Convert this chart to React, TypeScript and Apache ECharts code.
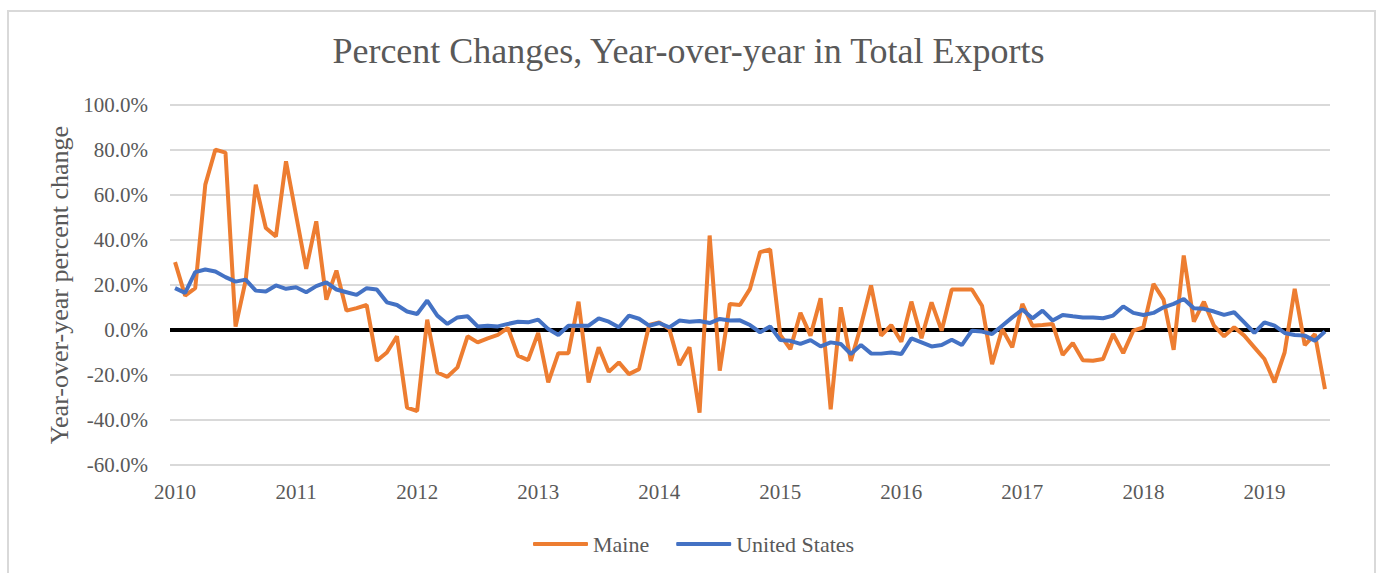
import React, { useEffect, useRef } from "react";
import * as echarts from "echarts";

const years = ["2010", "2011", "2012", "2013", "2014", "2015", "2016", "2017", "2018", "2019"];
const monthsInLastYear = 7;
const categories: string[] = [];
years.forEach((y, yi) => {
  const n = yi === years.length - 1 ? monthsInLastYear : 12;
  for (let m = 1; m <= n; m++) categories.push(`${y}-${String(m).padStart(2, "0")}`);
});

const maine = [
  30.2, 15.3, 18.6, 64.6, 80.2, 78.8, 1.5, 22, 64.6, 45.3, 41.6, 75.0, 51, 27.2, 48.3, 13.5, 26.4, 8.6, 9.7, 11.1, -13.7, -10, -2.8,
  -34.5, -36, 4.6, -18.9, -20.8, -16.6, -2.8, -5.5, -3.7, -2.2, 0.9, -11.4, -13.4, -1.3, -23.3, -10.3, -10.3, 12.6, -23.3, -7.7, -18.6, -14.4, -19.6, -17.4,
  2.2, 3.4, 0.4, -15.6, -7.7, -36.7, 42, -18.1, 11.6, 11.1, 18.3, 34.6, 35.8, -2.2, -8.5, 7.6, -2.5, 14.1, -35.2, 10.1, -13.7, 1.9, 19.8, -2.5,
  2.2, -5.2, 12.6, -3.7, 12.3, -0.3, 18, 18, 18, 10.8, -15.2, 0.4, -7.7, 11.6, 1.9, 2.2, 2.7, -11.1, -5.8, -13.4, -13.7, -12.9,
  -1.8, -10.3, -0.3, 1.2, 20.5, 13.5, -8.8, 33.1, 3.7, 12.6, 1.9, -2.8, 1.2, -2.5, -7.7, -12.9, -23.3, -10, 18.3, -6.7, -1.8, -26.3,
];

const unitedStates = [
  18.6, 16.5, 25.7, 26.9, 26, 23.5, 21.5, 22.4, 17.5, 17.1, 19.8, 18.3, 19, 16.8, 19.5, 21.2, 18, 16.8, 15.6, 18.6, 18, 12.3, 11.1,
  8.2, 7.1, 13.1, 6.4, 2.7, 5.6, 6.1, 1.6, 1.9, 1.6, 2.7, 3.7, 3.4, 4.6, 0.4, -2.2, 1.9, 1.9, 1.9, 5.2, 3.7, 1.2, 6.4, 5.0,
  1.9, 3.1, 1.2, 4.2, 3.7, 4, 3.1, 4.9, 4.2, 4.3, 2.2, -1, 1.6, -4.5, -4.8, -6.2, -4.5, -7.3, -5.5, -6.2, -10.7, -6.7, -10.4, -10.5,
  -10, -10.7, -3.7, -5.5, -7.3, -6.7, -4.3, -6.7, -0.3, -0.7, -1.8, 1.9, 5.6, 9.1, 5.2, 8.6, 4.2, 6.7, 6.1, 5.6, 5.6, 5.2,
  6.4, 10.5, 7.6, 6.7, 7.6, 10.1, 11.6, 13.8, 9.7, 9.4, 8.2, 6.7, 7.9, 3.4, -1.3, 3.4, 1.9, -1.3, -2.2, -2.5, -4.8, -0.7,
];

const seriesNames = ["Maine", "United States"];
const yMin = -60;
const yMax = 100;
const yStep = 20;

const FONT = "'Liberation Serif', 'Times New Roman', serif";
const TEXT = "#595959";

export default function App() {
  const ref = useRef<HTMLDivElement>(null);
  useEffect(() => {
    if (!ref.current) return;
    const chart = echarts.init(ref.current, undefined, { renderer: "svg" });
    chart.setOption({
      animation: false,
      backgroundColor: "#ffffff",
      textStyle: { fontFamily: FONT, color: TEXT },
      title: {
        text: "Percent Changes, Year-over-year in Total Exports",
        left: "center",
        top: 28,
        textStyle: { fontFamily: FONT, fontSize: 36, fontWeight: "normal", color: TEXT },
      },
      legend: {
        data: seriesNames,
        left: 533,
        top: 533,
        padding: 0,
        icon: "roundRect",
        itemWidth: 55,
        itemHeight: 4,
        itemGap: 27,
        textStyle: { fontFamily: FONT, fontSize: 22, color: TEXT },
      },
      grid: { left: 170, right: 47, top: 105, bottom: 108, containLabel: false },
      xAxis: {
        type: "category",
        data: categories,
        boundaryGap: true,
        axisLine: { show: false },
        axisTick: { show: false },
        axisLabel: {
          interval: 11,
          margin: 16,
          fontFamily: FONT,
          fontSize: 21,
          color: TEXT,
          formatter: (v: string) => v.slice(0, 4),
        },
        splitLine: { show: false },
      },
      yAxis: {
        type: "value",
        min: yMin,
        max: yMax,
        interval: yStep,
        name: "Year-over-year percent change",
        nameLocation: "middle",
        nameGap: 98,
        nameTextStyle: { fontFamily: FONT, fontSize: 26, color: TEXT },
        axisLine: { show: false },
        axisTick: { show: false },
        axisLabel: {
          margin: 22,
          fontFamily: FONT,
          fontSize: 21,
          color: TEXT,
          formatter: (v: number) => v.toFixed(1) + "%",
        },
        splitLine: { lineStyle: { color: "#d9d9d9", width: 2 } },
      },
      series: [
        {
          name: "Maine",
          type: "line",
          data: maine,
          showSymbol: false,
          symbol: "none",
          lineStyle: { color: "#ED7D31", width: 4 },
          itemStyle: { color: "#ED7D31" },
          markLine: {
            silent: true,
            symbol: ["none", "none"],
            label: { show: false },
            lineStyle: { color: "#000000", width: 4, type: "solid" },
            data: [{ yAxis: 0 }],
            z: 1,
          },
        },
        {
          name: "United States",
          type: "line",
          data: unitedStates,
          showSymbol: false,
          symbol: "none",
          lineStyle: { color: "#4472C4", width: 4 },
          itemStyle: { color: "#4472C4" },
        },
      ],
    });
    return () => chart.dispose();
  }, []);
  return (
    <div style={{ position: "absolute", left: 0, top: 0, width: 1377, height: 573, overflow: "hidden" }}>
      <div ref={ref} style={{ position: "absolute", left: 0, top: 0, width: 1377, height: 573 }} />
      <div
        style={{
          position: "absolute",
          left: 7,
          top: 10,
          width: 1365,
          height: 570,
          borderTop: "2px solid #d9d9d9",
          borderLeft: "2px solid #d9d9d9",
          borderRight: "2px solid #d9d9d9",
          pointerEvents: "none",
        }}
      />
    </div>
  );
}
